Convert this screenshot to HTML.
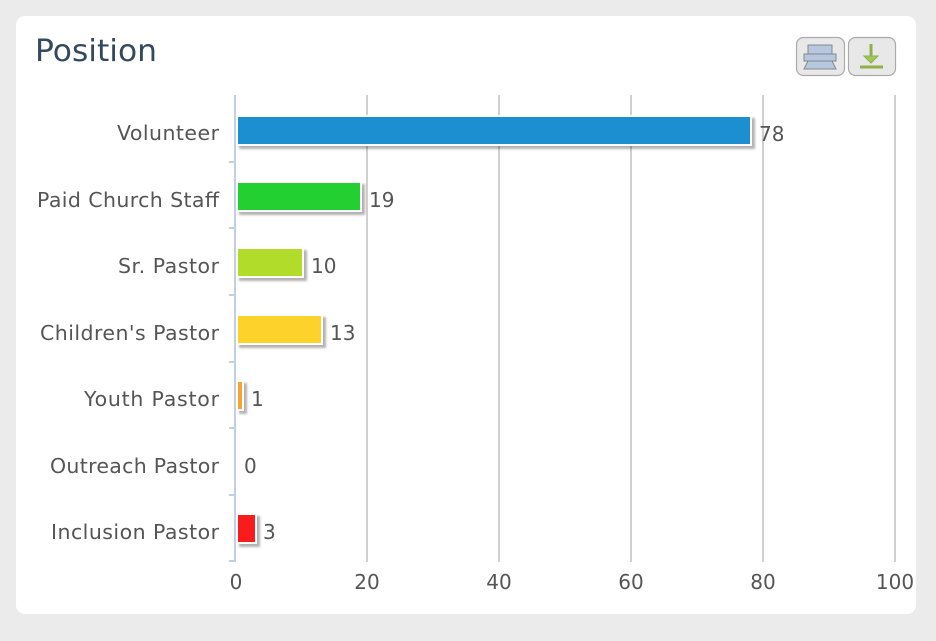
<!DOCTYPE html>
<html><head><style>
body{margin:0;background:#ebebeb;width:936px;height:636px;overflow:hidden;font-family:"Liberation Sans",sans-serif}
</style></head><body>
<svg width="936" height="636" xmlns="http://www.w3.org/2000/svg" font-family="DejaVu Sans, sans-serif">
<rect x="0" y="0" width="936" height="636" fill="#ebebeb"/>
<rect x="16" y="16" width="900" height="598" rx="9" fill="#fff"/>
<text x="35" y="61" font-size="30" fill="#34495e" textLength="122" lengthAdjust="spacingAndGlyphs">Position</text>
<g stroke="#aaa" stroke-width="1.2">
<rect x="796.5" y="37.5" width="48" height="38" rx="7" fill="#e8e8e8"/>
<rect x="848.5" y="37.5" width="47" height="38" rx="7" fill="#e8e8e8"/>
</g>
<g fill="#b5c8e0" stroke="#888" stroke-width="1">
<rect x="808" y="45" width="24" height="9"/>
<rect x="804" y="54" width="32" height="7"/>
<polygon points="808,61 832,61 836,69 804,69"/>
</g>
<g stroke="#8fb04a" stroke-width="3" fill="#a5c55f">
<line x1="871" y1="44" x2="871" y2="57"/>
<polygon points="864,56 878,56 871,63" stroke-width="1"/>
<line x1="860" y1="67" x2="883" y2="67"/>
</g>
<g stroke="#c0c0c0" stroke-width="1.5">
<line x1="367" y1="95" x2="367" y2="562"/><line x1="499" y1="95" x2="499" y2="562"/>
<line x1="631" y1="95" x2="631" y2="562"/><line x1="763" y1="95" x2="763" y2="562"/>
<line x1="895" y1="95" x2="895" y2="562"/>
</g>
<g stroke="#c0d0e0" stroke-width="2">
<line x1="235" y1="95" x2="235" y2="562"/>
<line x1="229" y1="162" x2="235" y2="162"/><line x1="229" y1="228" x2="235" y2="228"/>
<line x1="229" y1="295" x2="235" y2="295"/><line x1="229" y1="362" x2="235" y2="362"/>
<line x1="229" y1="428" x2="235" y2="428"/><line x1="229" y1="495" x2="235" y2="495"/>
<line x1="229" y1="561" x2="235" y2="561"/>
</g>
<g font-size="20.5" fill="#555" text-anchor="end" lengthAdjust="spacingAndGlyphs">
<text x="219" y="140" textLength="102">Volunteer</text>
<text x="219" y="207" textLength="182">Paid Church Staff</text>
<text x="219" y="273" textLength="101">Sr. Pastor</text>
<text x="219" y="340" textLength="179">Children's Pastor</text>
<text x="219" y="406" textLength="135">Youth Pastor</text>
<text x="219" y="473" textLength="169">Outreach Pastor</text>
<text x="219" y="539" textLength="168">Inclusion Pastor</text>
</g>
<g font-size="20" fill="#555" text-anchor="middle">
<text x="236" y="589">0</text><text x="367" y="589">20</text><text x="499" y="589">40</text>
<text x="631" y="589">60</text><text x="763" y="589">80</text><text x="895" y="589">100</text>
</g>
<g stroke="#fff" stroke-width="2" style="filter:drop-shadow(3px 3px 1px rgba(0,0,0,0.3))">
<rect x="237" y="116" width="514" height="29" fill="#1c8fd0"/>
<rect x="237" y="182" width="124" height="29" fill="#22d131"/>
<rect x="237" y="248" width="66" height="29" fill="#b2dc2a"/>
<rect x="237" y="315" width="85" height="29" fill="#fcd22b"/>
<rect x="237" y="381" width="6" height="29" fill="#f7a430"/>
<rect x="237" y="514" width="19" height="29" fill="#fa1c1c"/>
</g>
<g font-size="20" fill="#555">
<text x="759" y="141">78</text><text x="369" y="207">19</text><text x="311" y="273">10</text>
<text x="330" y="340">13</text><text x="251" y="406">1</text><text x="244" y="473">0</text>
<text x="263" y="539">3</text>
</g>
</svg>
</body></html>
